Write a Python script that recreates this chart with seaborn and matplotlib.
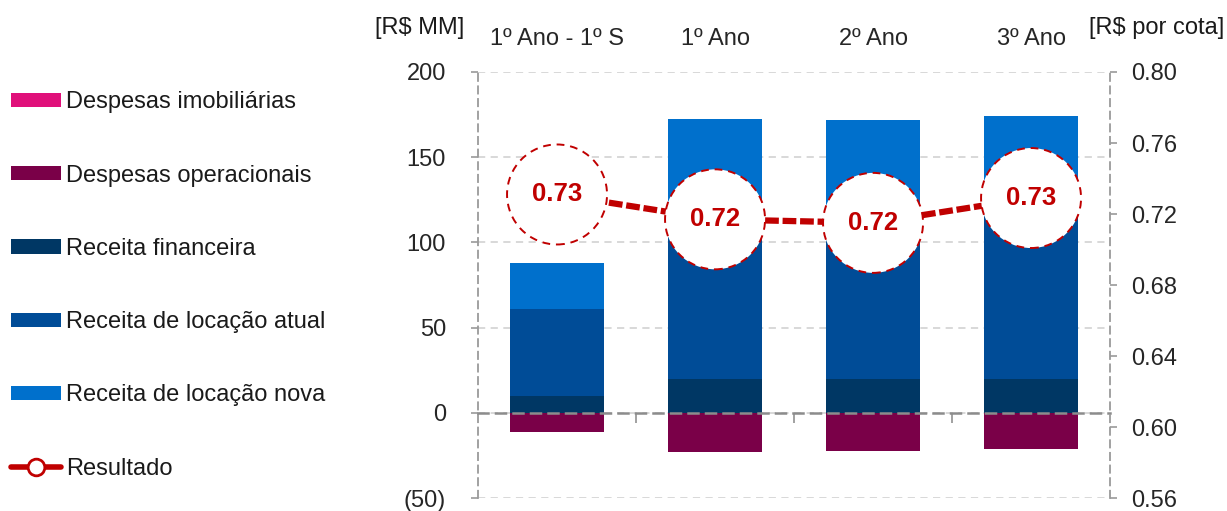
import matplotlib
matplotlib.use("Agg")
import matplotlib.pyplot as plt
import seaborn as sns
import pandas as pd
from matplotlib.patches import Patch
from matplotlib.lines import Line2D

# data
periodos = ["1º Ano - 1º S", "1º Ano", "2º Ano", "3º Ano"]
receita_financeira = [10, 20, 20, 20]
receita_locacao_atual = [51, 88, 88, 98]
receita_locacao_nova = [27, 64.5, 63.7, 56.2]
despesas_imobiliarias = [-0.3, -0.3, -0.3, -0.3]
despesas_operacionais = [-11.2, -22.5, -22.1, -20.9]
resultado = [0.731, 0.717, 0.715, 0.729]
resultado_labels = ["0.73", "0.72", "0.72", "0.73"]
left_ticks = [-50, 0, 50, 100, 150, 200]
left_ticklabels = ["(50)", "0", "50", "100", "150", "200"]
right_ticks = [0.56, 0.60, 0.64, 0.68, 0.72, 0.76, 0.80]

cores = {
    "Despesas imobiliárias": "#E0107A",
    "Despesas operacionais": "#7A0048",
    "Receita financeira": "#003764",
    "Receita de locação atual": "#004C97",
    "Receita de locação nova": "#0070CC",
    "Resultado": "#C00000",
}

sns.set_style("white")
plt.rcParams["font.family"] = ["Liberation Sans", "DejaVu Sans"]
plt.rcParams["text.color"] = "#1a1a1a"
fs = 17

df = pd.DataFrame({
    "periodo": periodos,
    "fin": receita_financeira,
    "atual": receita_locacao_atual,
    "nova": receita_locacao_nova,
    "imob": despesas_imobiliarias,
    "oper": despesas_operacionais,
})
df["base_atual"] = df["fin"]
df["base_nova"] = df["fin"] + df["atual"]
df["base_oper"] = df["imob"]

fig = plt.figure(figsize=(12.27, 5.11), dpi=100)
ax = fig.add_axes([0.3896, 0.0254, 0.5151, 0.8337])

w = 0.59
layers = [
    ("fin", None, "Receita financeira"),
    ("atual", "base_atual", "Receita de locação atual"),
    ("nova", "base_nova", "Receita de locação nova"),
    ("imob", None, "Despesas imobiliárias"),
    ("oper", "base_oper", "Despesas operacionais"),
]
for col, base, nome in layers:
    bottom = df[base].values if base else 0
    sns.barplot(data=df, x="periodo", y=col, bottom=bottom, color=cores[nome],
                width=w, saturation=1, ax=ax, linewidth=0, zorder=1)

ax.set_xlim(-0.5, 3.5)
ax.set_ylim(-50, 200)
ax.set_yticks(left_ticks)
ax.set_yticklabels(left_ticklabels)
ax.set_xlabel("")
ax.set_ylabel("")
ax.set_axisbelow(True)
ax.yaxis.grid(True, color="#D6D6D6", linestyle=(0, (4, 3)), linewidth=1.3)

gray = "#9A9A9A"
ax.spines["top"].set_visible(False)
ax.spines["right"].set_visible(False)
ax.spines["left"].set_color(gray)
ax.spines["left"].set_linestyle((0, (4, 3)))
ax.spines["left"].set_linewidth(1.3)
ax.spines["bottom"].set_position(("data", 0))
ax.spines["bottom"].set_color("#8C8C8C")
ax.spines["bottom"].set_linestyle((0, (4, 3)))
ax.spines["bottom"].set_linewidth(1.8)

ax.set_xticks([0.5, 1.5, 2.5], minor=True)
ax.tick_params(axis="x", which="major", bottom=False, top=False,
               labelbottom=False, labeltop=True, pad=12, labelsize=fs)
ax.tick_params(axis="x", which="minor", bottom=True, top=False,
               length=7, width=1.3, color=gray, direction="out")
ax.tick_params(axis="y", which="major", left=True, length=5, width=1.2,
               color=gray, pad=18, labelsize=fs)

ax2 = ax.twinx()
ax2.set_ylim(0.56, 0.80)
ax2.set_yticks(right_ticks)
ax2.set_yticklabels([f"{t:.2f}" for t in right_ticks])
ax2.tick_params(axis="y", which="major", right=True, length=5, width=1.2,
                color=gray, pad=10, labelsize=fs)
for s in ["top", "left", "bottom"]:
    ax2.spines[s].set_visible(False)
ax2.spines["right"].set_color(gray)
ax2.spines["right"].set_linestyle((0, (4, 3)))
ax2.spines["right"].set_linewidth(1.3)
ax2.grid(False)

pos = list(range(len(periodos)))
sns.lineplot(x=pos, y=resultado, ax=ax2, color=cores["Resultado"], linewidth=4.5,
             linestyle=(0, (2.2, 0.6)), zorder=2)
ax2.scatter(pos, resultado, s=72 ** 2, facecolor="white",
            edgecolor=cores["Resultado"], linewidths=1.4, linestyle=(0, (4, 3)),
            zorder=3)
for x, y, lab in zip(pos, resultado, resultado_labels):
    ax2.text(x, y, lab, ha="center", va="center", fontsize=18.5, fontweight="bold",
             color=cores["Resultado"], zorder=4)
ax2.set_xlim(-0.5, 3.5)

fig.text(0.342, 0.945, "[R$ MM]", ha="center", va="center", fontsize=fs)
fig.text(0.943, 0.945, "[R$ por cota]", ha="center", va="center", fontsize=fs)

handles = [Patch(facecolor=cores[n], edgecolor="none") for n in
           ["Despesas imobiliárias", "Despesas operacionais", "Receita financeira",
            "Receita de locação atual", "Receita de locação nova"]]
handles.append(Line2D([0], [0], color=cores["Resultado"], linewidth=4,
                      marker="o", markersize=12, markerfacecolor="white",
                      markeredgecolor=cores["Resultado"], markeredgewidth=2))
labels = ["Despesas imobiliárias", "Despesas operacionais", "Receita financeira",
          "Receita de locação atual", "Receita de locação nova", "Resultado"]
fig.legend(handles, labels, loc="upper left", bbox_to_anchor=(0.009, 0.821),
           frameon=False, fontsize=fs, handlelength=2.12, handleheight=0.55,
           handletextpad=0.2, labelspacing=2.17, borderpad=0, borderaxespad=0)

fig.savefig("out.png", dpi=100)
